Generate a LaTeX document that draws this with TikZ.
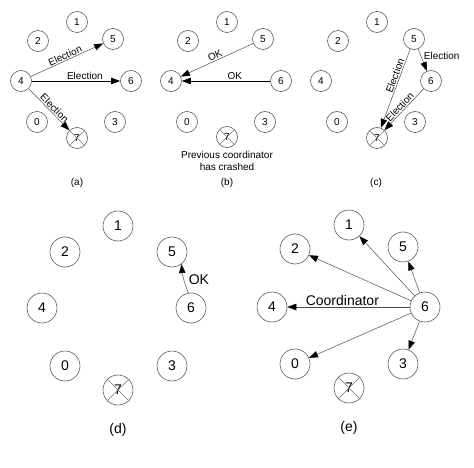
\documentclass[tikz,border=0pt]{standalone}
\usepackage{fontspec}
\setmainfont{Liberation Sans}
\usetikzlibrary{arrows.meta,calc}
\newcommand{\xcross}[2]{%
  \draw[crossline] ($(#1.center)+(-#2,-#2)$) -- ($(#1.center)+(#2,#2)$);
  \draw[crossline] ($(#1.center)+(-#2,#2)$) -- ($(#1.center)+(#2,-#2)$);}
\begin{document}
\begin{tikzpicture}[x=1pt,y=-1pt,
  sproc/.style={circle,draw=black!65,line width=0.6pt,minimum size=21pt,inner sep=0pt,font=\fontsize{10}{12}\selectfont},
  lproc/.style={circle,draw=black!65,line width=0.6pt,minimum size=30pt,inner sep=0pt,font=\fontsize{14}{16}\selectfont},
  msg/.style={draw=black!70,line width=0.5pt,-{Triangle[length=9pt,width=6.5pt,color=black]}},
  smsg/.style={msg,line width=0.8pt,draw=black},
  slbl/.style={font=\fontsize{10}{12}\selectfont,inner sep=1pt},
  llbl/.style={font=\fontsize{14}{16}\selectfont,inner sep=1.5pt},
  crossline/.style={draw=black!55,line width=0.5pt}]
\useasboundingbox (0,0) rectangle (474,468);
% ---------- panel (a)
\node[sproc] (a1) at (77,22) {1};
\node[sproc] (a2) at (38,41) {2};
\node[sproc] (a5) at (113,39) {5};
\node[sproc] (a4) at (21,81) {4};
\node[sproc] (a6) at (131,81) {6};
\node[sproc] (a0) at (37,122) {0};
\node[sproc] (a3) at (115,122) {3};
\node[sproc] (a7) at (77,138) {7};
\xcross{a7}{8}
\draw[msg] (a4) -- node[slbl,above,sloped] {Election} (a5);
\draw[smsg] (a4) -- node[slbl,above,pos=0.6] {Election} (a6);
\draw[msg] (a4) -- node[slbl,above,sloped,pos=0.55] {Election} (a7);
\node[slbl] (capa) at (77,183) {(a)};
% ---------- panel (b)
\node[sproc] (b1) at (227,22) {1};
\node[sproc] (b2) at (188,41) {2};
\node[sproc] (b5) at (263,39) {5};
\node[sproc] (b4) at (171,81) {4};
\node[sproc] (b6) at (281,81) {6};
\node[sproc] (b0) at (187,122) {0};
\node[sproc] (b3) at (265,122) {3};
\node[sproc] (b7) at (227,137) {7};
\xcross{b7}{8}
\draw[msg] (b5) -- node[slbl,above,sloped] {OK} (b4);
\draw[smsg] (b6) -- node[slbl,above,pos=0.4] {OK} (b4);
\node[slbl,align=center] (note) at (227,161) {Previous coordinator\\has crashed};
\node[slbl] (capb) at (227,183) {(b)};
% ---------- panel (c)
\node[sproc] (c1) at (377,22) {1};
\node[sproc] (c2) at (338,41) {2};
\node[sproc] (c5) at (414,39) {5};
\node[sproc] (c4) at (321,81) {4};
\node[sproc] (c6) at (431,81) {6};
\node[sproc] (c0) at (337,122) {0};
\node[sproc] (c3) at (415,122) {3};
\node[sproc] (c7) at (377,138) {7};
\xcross{c7}{8}
\draw[msg] (c5) -- node[slbl,right,pos=0.3,xshift=2pt] {Election} (c6);
\draw[msg] (c5) -- node[slbl,above,sloped,pos=0.36] {Election} (c7);
\draw[msg] (c6) -- node[slbl,above,sloped,pos=0.52] {Election} (c7);
\node[slbl] (capc) at (376,183) {(c)};
% ---------- panel (d)
\node[lproc] (d1) at (118,226) {1};
\node[lproc] (d2) at (65,252) {2};
\node[lproc] (d5) at (172,252) {5};
\node[lproc] (d4) at (42,308) {4};
\node[lproc] (d6) at (191,308) {6};
\node[lproc] (d0) at (65,366) {0};
\node[lproc] (d3) at (172,366) {3};
\node[lproc] (d7) at (118,390) {7};
\xcross{d7}{11.5}
\draw[msg] (d6.100) to[bend left=8] node[llbl,right,pos=0.45,xshift=3pt] {OK} (d5.-52);
\node[llbl] (capd) at (118,430) {(d)};
% ---------- panel (e)
\node[lproc] (e1) at (349,225) {1};
\node[lproc] (e2) at (295,249) {2};
\node[lproc] (e5) at (403,247) {5};
\node[lproc] (e4) at (272,307) {4};
\node[lproc] (e6) at (425,307) {6};
\node[lproc] (e0) at (295,364) {0};
\node[lproc] (e3) at (403,364) {3};
\node[lproc] (e7) at (349,388) {7};
\xcross{e7}{11.5}
\draw[msg] (e6) -- (e1);
\draw[msg] (e6) -- (e2);
\draw[msg] (e6) -- (e5);
\draw[msg] (e6) -- node[llbl,above,pos=0.55] {Coordinator} (e4);
\draw[msg] (e6) -- (e0);
\draw[msg] (e6) -- (e3);
\node[llbl] (cape) at (349,428) {(e)};
\end{tikzpicture}
\end{document}
